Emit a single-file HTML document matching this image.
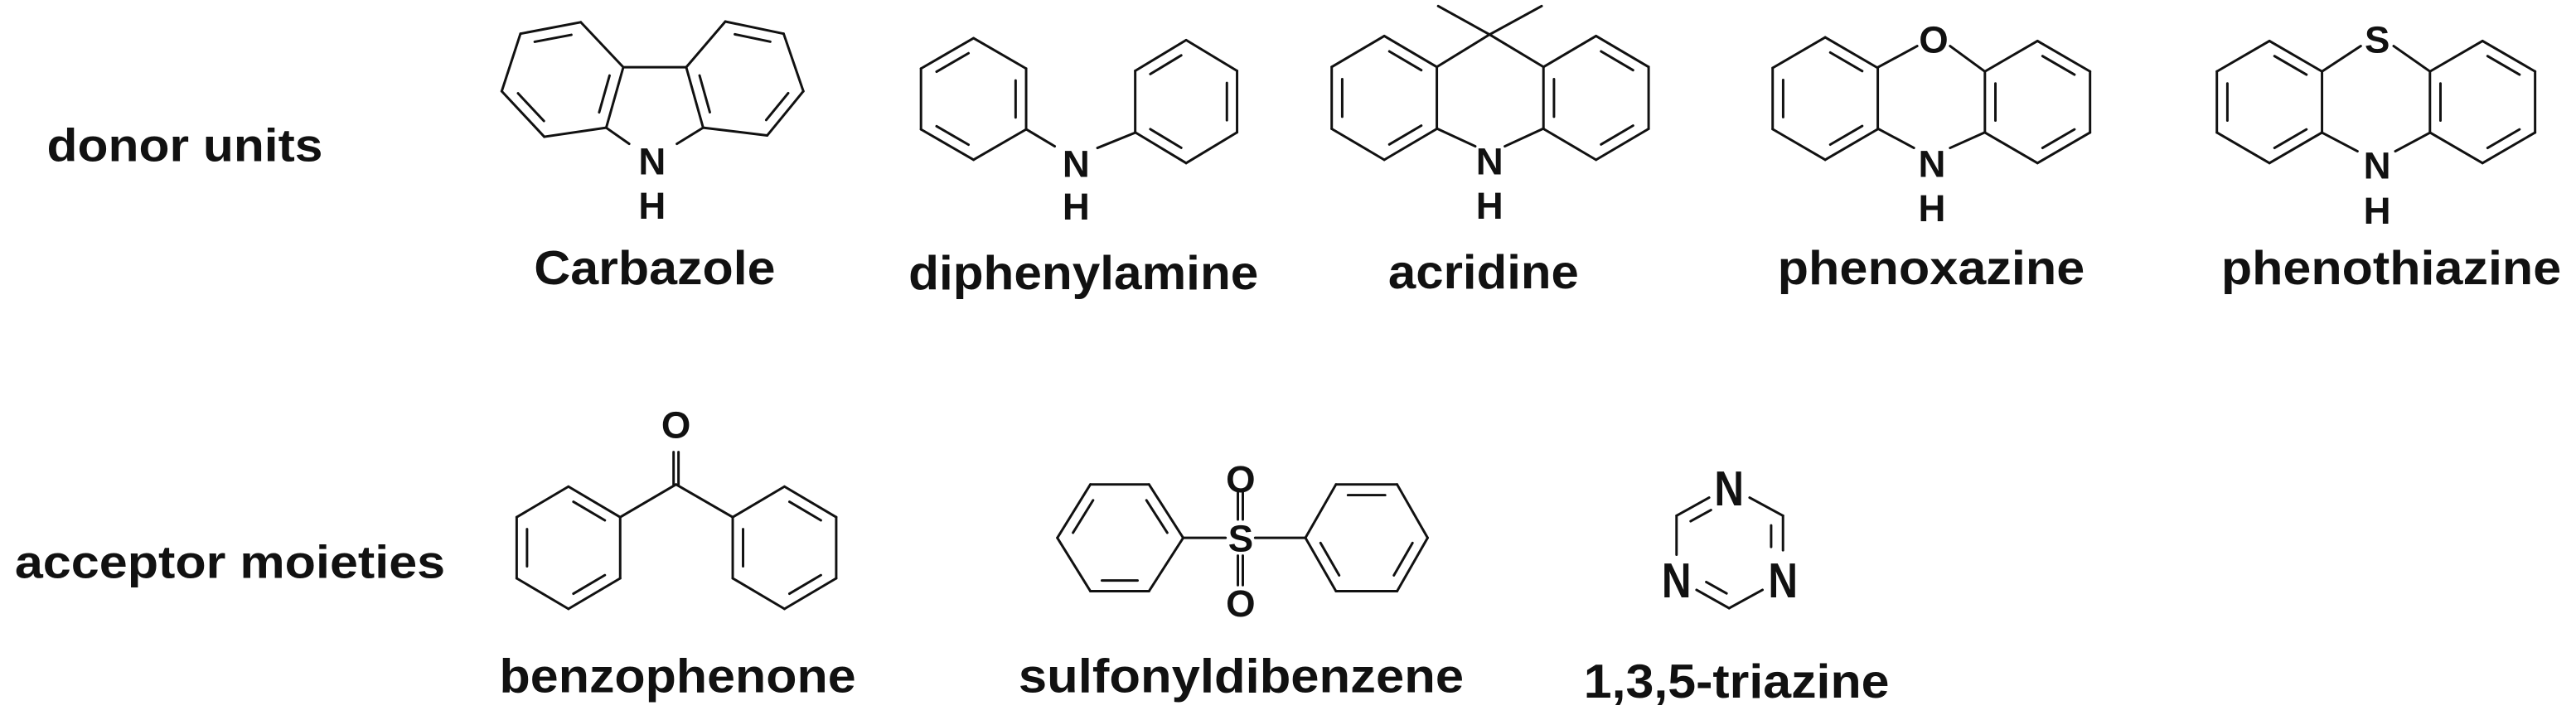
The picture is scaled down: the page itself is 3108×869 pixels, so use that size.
<!DOCTYPE html>
<html><head><meta charset="utf-8"><style>
html,body{margin:0;padding:0;background:#fff;}
svg{display:block;}
text{font-family:"Liberation Sans",Arial,sans-serif;font-weight:bold;fill:#111;}
</style></head><body>
<svg id="s" width="3108" height="869" viewBox="0 0 1568 438" preserveAspectRatio="none" xmlns="http://www.w3.org/2000/svg">
<rect width="1568" height="438" fill="#fff"/>
<g id="b" stroke="#111" stroke-width="1.5" fill="none" stroke-linecap="round" stroke-linejoin="round"></g>
<g id="t">
<text x="28.5" y="98" font-size="28" textLength="168" lengthAdjust="spacingAndGlyphs">donor units</text>
<text x="9" y="351.5" font-size="28" textLength="262" lengthAdjust="spacingAndGlyphs">acceptor moieties</text>

<text x="325" y="173" font-size="29" textLength="147" lengthAdjust="spacingAndGlyphs">Carbazole</text>
<text x="553" y="176" font-size="29" textLength="213" lengthAdjust="spacingAndGlyphs">diphenylamine</text>
<text x="845" y="175.5" font-size="29" textLength="116" lengthAdjust="spacingAndGlyphs">acridine</text>
<text x="1082" y="173" font-size="29" textLength="187" lengthAdjust="spacingAndGlyphs">phenoxazine</text>
<text x="1352" y="173" font-size="29" textLength="207" lengthAdjust="spacingAndGlyphs">phenothiazine</text>
<text x="304" y="421" font-size="29" textLength="217" lengthAdjust="spacingAndGlyphs">benzophenone</text>
<text x="620" y="421" font-size="29" textLength="271" lengthAdjust="spacingAndGlyphs">sulfonyldibenzene</text>
<text x="964" y="424.5" font-size="29" textLength="186" lengthAdjust="spacingAndGlyphs">1,3,5-triazine</text>
</g>
<g id="a" text-anchor="middle" font-size="23"></g>
</svg>
<script>
var NS="http://www.w3.org/2000/svg",B=document.getElementById('b'),A=document.getElementById('a');
function L(x1,y1,x2,y2){var l=document.createElementNS(NS,'line');l.setAttribute('x1',x1);l.setAttribute('y1',y1);l.setAttribute('x2',x2);l.setAttribute('y2',y2);B.appendChild(l);}
function ring(p,d,skip){skip=skip||[];var cx=0,cy=0;p.forEach(function(q){cx+=q[0];cy+=q[1];});cx/=6;cy/=6;
for(var i=0;i<6;i++){if(skip.indexOf(i)>=0)continue;var a=p[i],b=p[(i+1)%6];L(a[0],a[1],b[0],b[1]);
if(d.indexOf(i)>=0){var f=0.2,ax=a[0]+(cx-a[0])*f,ay=a[1]+(cy-a[1])*f,bx=b[0]+(cx-b[0])*f,by=b[1]+(cy-b[1])*f,s=0.12;
L(ax+(bx-ax)*s,ay+(by-ay)*s,bx-(bx-ax)*s,by-(by-ay)*s);}}}
function vr(cx,top,bot,hw){var m1=top+(bot-top)*0.25,m2=top+(bot-top)*0.75;return[[cx,top],[cx-hw,m1],[cx-hw,m2],[cx,bot],[cx+hw,m2],[cx+hw,m1]];}
function T(x,y,s,fs,w){var t=document.createElementNS(NS,'text');t.setAttribute('x',x);t.setAttribute('y',y);if(fs)t.setAttribute('font-size',fs);
if(w){t.setAttribute('textLength',w);t.setAttribute('lengthAdjust','spacingAndGlyphs');}t.textContent=s;A.appendChild(t);}
// carbazole
ring([[353.5,13.5],[316.8,20.5],[305.4,55.5],[331.3,83.2],[369,77.7],[379.4,40.9]],[0,2,4]);
ring([[441.5,13.1],[477,20.5],[489,55.5],[467,82.4],[428,77.7],[417.7,40.9]],[0,2,4]);
L(379.4,40.9,417.7,40.9);L(369,77.7,383,87.5);L(428,77.7,412,87.5);
T(397,106,'N');T(397,133,'H');
// diphenylamine
ring(vr(592.6,23.2,97.2,32),[0,2,4]);ring(vr(722,24.4,99.2,31),[0,2,4]);
L(624.6,78.6,642,89);L(691,80.7,668,90);T(655,107.5,'N');T(655,133.5,'H');
// acridine
ring(vr(842.6,21.9,97.2,32),[5,1,3]);ring(vr(971.5,21.9,97.2,32),[5,1,3]);
L(906.7,21,874.6,40.7);L(906.7,21,939.5,40.7);L(906.7,21,875.4,3.7);L(906.7,21,938.4,3.7);
L(874.6,78.2,898,89);L(939.5,78.2,916,89);T(906.7,106,'N');T(906.7,133,'H');
// phenoxazine
ring(vr(1111,22.7,97.2,32),[5,1,3]);ring(vr(1240.2,24.9,99.2,32),[5,1,3]);
L(1143,41,1167,28);L(1208.2,43.5,1187,28);L(1143,78.2,1165,90);L(1208.2,80.5,1187,90);
T(1177,32,'O');T(1176,107.5,'N');T(1176,134.5,'H');
// phenothiazine
ring(vr(1381.4,24.9,99.2,32),[5,1,3]);ring(vr(1511.1,24.9,99.2,32),[5,1,3]);
L(1413.4,43.5,1437,28);L(1479.2,43.5,1457,28);L(1413.4,80.7,1435,92);L(1479.2,80.7,1458,92);
T(1447,32,'S');T(1447,108.5,'N');T(1447,136,'H');
// benzophenone
ring(vr(346,296,370.4,31.5),[5,1,3]);ring(vr(477.5,296,370.4,31.5),[5,1,3]);
L(377.5,314.6,411.5,294.7);L(446,314.6,411.5,294.7);L(410,294.7,410,275);L(413,294.7,413,275);
T(411.5,266.5,'O');
// sulfonyldibenzene
ring([[663.7,294.7],[699.4,294.7],[720.2,327.2],[699.4,359.6],[663.7,359.6],[643.6,327.2]],[5,1,3]);
ring([[813.2,294.7],[850.4,294.7],[869,327.2],[850.4,359.6],[813.2,359.6],[794.6,327.2]],[0,2,4]);
L(720.2,327.2,746,327.2);L(764,327.2,794.6,327.2);
L(753.5,299,753.5,316);L(756.5,299,756.5,316);L(753.5,338,753.5,356);L(756.5,338,756.5,356);
T(755.2,335.5,'S');T(755.2,299.5,'O');T(755.2,375,'O');
// triazine
(function(){var p=[[1052.5,296],[1085.3,313.7],[1085.3,352],[1052.5,370],[1020.5,352],[1020.5,313.7]];
function seg(a,b,ta,tb,inner){var x1=a[0]+(b[0]-a[0])*ta,y1=a[1]+(b[1]-a[1])*ta,x2=a[0]+(b[0]-a[0])*tb,y2=a[1]+(b[1]-a[1])*tb;L(x1,y1,x2,y2);
if(inner){var cx=1052.5,cy=333,f=0.22;var ix1=x1+(cx-x1)*f,iy1=y1+(cy-y1)*f,ix2=x2+(cx-x2)*f,iy2=y2+(cy-y2)*f;L(ix1+(ix2-ix1)*.1,iy1+(iy2-iy1)*.1,ix2-(ix2-ix1)*.1,iy2-(iy2-iy1)*.1);}}
seg(p[0],p[1],0.38,1,false);seg(p[1],p[2],0,0.55,true);seg(p[2],p[3],0.38,1,false);seg(p[3],p[4],0,0.62,true);seg(p[4],p[5],0.38,1,false);seg(p[5],p[0],0,0.62,true);
T(1052.5,307.5,'N',30,18);T(1020.5,363.5,'N',30,18);T(1085.3,363.5,'N',30,18);})();
</script>
</body></html>
